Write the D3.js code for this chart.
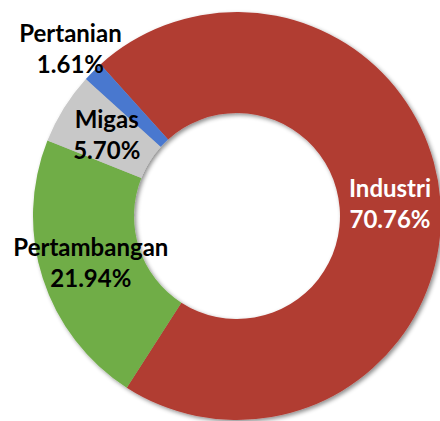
<!DOCTYPE html>
<html>
<head>
<meta charset="utf-8">
<script src="https://cdn.jsdelivr.net/npm/d3@7"></script>
<style>
  html, body { margin: 0; padding: 0; background: #fff; overflow: hidden; }
  #chart { width: 440px; height: 421px; }
</style>
</head>
<body>
<div id="chart"></div>
<script>
// data, clockwise from the Industri slice
const sectors = ["Industri", "Pertambangan", "Migas", "Pertanian"];
const shares = [70.76, 21.94, 5.70, 1.61];
const shareLabels = ["70.76%", "21.94%", "5.70%", "1.61%"];
const sectorColors = ["#b13c33", "#70ad47", "#c8c8c8", "#4a78cf"];
const labelColors = ["#ffffff", "#000000", "#000000", "#000000"];

function drawDonut() {
    const container = d3.select("#chart");
    container.selectAll("*").remove();

    const width = 440, height = 421;
    const cx = 237, cy = 216;
    const outerR = 204, innerR = 103;

    const svg = container.append("svg")
        .attr("width", width)
        .attr("height", height);

    // soft shadow like the office chart
    const defs = svg.append("defs");
    defs.append("filter")
        .attr("id", "shadow")
        .attr("x", "-20%").attr("y", "-20%")
        .attr("width", "140%").attr("height", "140%")
        .append("feDropShadow")
        .attr("dx", 2).attr("dy", 2)
        .attr("stdDeviation", 2)
        .attr("flood-color", "#000")
        .attr("flood-opacity", 0.45);

    const g = svg.append("g").attr("transform", `translate(${cx},${cy})`);

    const start = -42 * Math.PI / 180;
    const pie = d3.pie().sort(null).value(d => d.value)
        .startAngle(start).endAngle(start + 2 * Math.PI);

    const table = sectors.map((s, i) => ({ name: s, value: shares[i], i }));
    const arcs = pie(table);

    const arc = d3.arc().innerRadius(innerR).outerRadius(outerR);
    const outsideArc = d3.arc().innerRadius(236).outerRadius(236);

    g.append("g")
        .attr("filter", "url(#shadow)")
        .selectAll("path")
        .data(arcs)
        .enter()
        .append("path")
        .attr("d", arc)
        .attr("fill", d => sectorColors[d.data.i]);

    // labels: inside the ring, small slices pushed outside
    const labels = g.selectAll(".lbl")
        .data(arcs)
        .enter()
        .append("text")
        .attr("class", "lbl")
        .attr("transform", d => {
            const p = d.data.value < 3 ? outsideArc.centroid(d) : arc.centroid(d);
            return `translate(${p[0]},${p[1]})`;
        })
        .attr("text-anchor", "middle")
        .attr("font-family", "Lato, 'Open Sans', sans-serif")
        .attr("font-weight", "bold")
        .attr("font-size", "24px")
        .attr("fill", d => labelColors[d.data.i]);

    labels.append("tspan").attr("x", 0).attr("y", -7).text(d => d.data.name);
    labels.append("tspan").attr("x", 0).attr("y", 24).text(d => shareLabels[d.data.i]);
}

drawDonut();
</script>
</body>
</html>
